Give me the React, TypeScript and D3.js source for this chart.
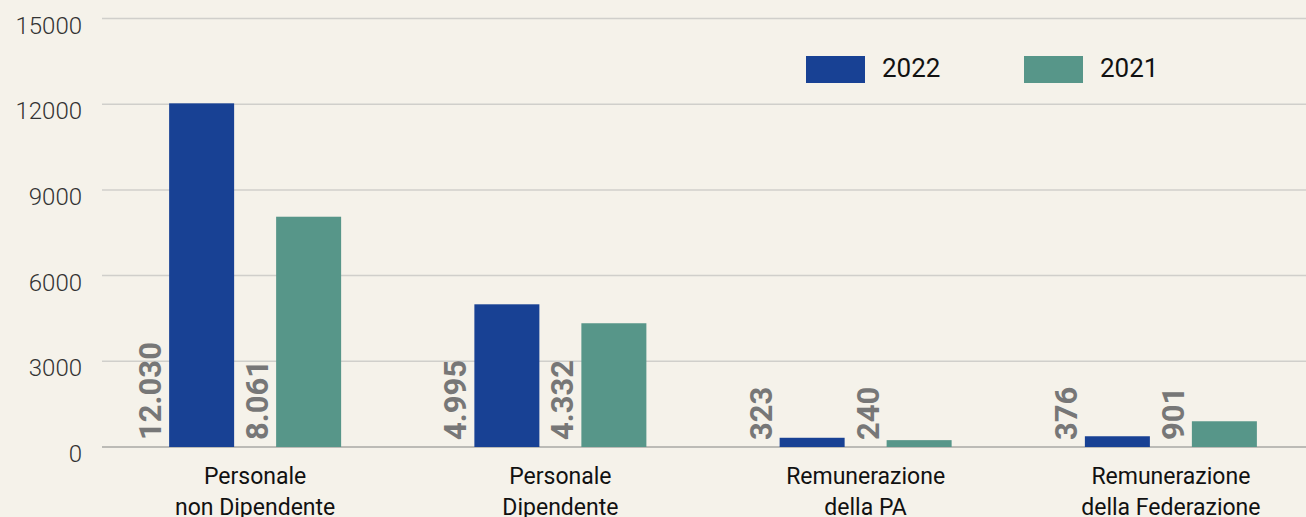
import React from 'react';
import * as d3 from 'd3';

// categories (two-line labels) and the two years
const categories = ['Personale non Dipendente', 'Personale Dipendente', 'Remunerazione della PA', 'Remunerazione della Federazione'];
const categoryLines = [
  ['Personale', 'non Dipendente'],
  ['Personale', 'Dipendente'],
  ['Remunerazione', 'della PA'],
  ['Remunerazione', 'della Federazione'],
];
const years = ['2022', '2021'];
const values2022 = [12030, 4995, 323, 376];
const values2021 = [8061, 4332, 240, 901];
const yTicks = [0, 3000, 6000, 9000, 12000, 15000];

const colors: Record<string, string> = { '2022': '#184194', '2021': '#579689' };

const W = 1306;
const H = 517;
const font = 'Roboto, "DejaVu Sans", sans-serif';

const fmt = (v: number) => (v >= 1000 ? d3.format(',')(v).replace(/,/g, '.') : String(v));

const App = () => {
  // y axis: 0 at the baseline, 15000 at the top line
  const y = d3.scaleLinear().domain([0, 15000]).range([447, 18.5]);

  // outer band per category, inner band per year
  const x0 = d3.scaleBand().domain(categories).range([102.5, 1323.5]).padding(0);
  const x1 = d3
    .scaleBand()
    .domain(years)
    .range([0, x0.bandwidth()])
    .paddingInner(0.3925)
    .paddingOuter(0.6227);

  const series = [
    { year: '2022', values: values2022 },
    { year: '2021', values: values2021 },
  ];

  return (
    <svg
      width={W}
      height={H}
      style={{ position: 'absolute', left: 0, top: 0, background: '#f5f2ea', display: 'block' }}
    >
      <rect x={0} y={0} width={W} height={H} fill="#f5f2ea" />

      {/* gridlines and y tick labels */}
      {yTicks.map((t) => (
        <g key={t}>
          <line
            x1={102}
            x2={W}
            y1={y(t)}
            y2={y(t)}
            stroke={t === 0 ? '#a9a8a4' : '#d0cfcb'}
            strokeWidth={1.5}
          />
          <text
            x={82}
            y={y(t) + 15}
            textAnchor="end"
            fontFamily={font}
            fontSize={24}
            fontWeight={300}
            fill="#333"
          >
            {t}
          </text>
        </g>
      ))}

      {/* bars and rotated value labels */}
      {series.map((s) =>
        s.values.map((v, i) => {
          const bx = (x0(categories[i]) as number) + (x1(s.year) as number);
          return (
            <g key={s.year + i}>
              <rect
                x={bx}
                y={y(v)}
                width={x1.bandwidth()}
                height={y(0) - y(v)}
                fill={colors[s.year]}
              />
              <text
                transform={`translate(${bx - 8}, ${y(0) - 7}) rotate(-90)`}
                fontFamily={font}
                fontWeight="bold"
                fontSize={31}
                fill="#777"
              >
                {fmt(v)}
              </text>
            </g>
          );
        })
      )}

      {/* category labels */}
      {categories.map((c, i) => (
        <text
          key={c}
          x={(x0(c) as number) + x0.bandwidth() / 2}
          textAnchor="middle"
          fontFamily={font}
          fontSize={23}
          fill="#111"
        >
          {categoryLines[i].map((line, j) => (
            <tspan key={j} x={(x0(c) as number) + x0.bandwidth() / 2} y={484 + j * 31}>
              {line}
            </tspan>
          ))}
        </text>
      ))}

      {/* legend */}
      {years.map((yr, i) => (
        <g key={yr} transform={`translate(${806 + i * 218}, 56)`}>
          <rect x={0} y={0} width={59} height={27} fill={colors[yr]} />
          <text x={76} y={21} fontFamily={font} fontSize={26} fill="#111">
            {yr}
          </text>
        </g>
      ))}
    </svg>
  );
};

export default App;
